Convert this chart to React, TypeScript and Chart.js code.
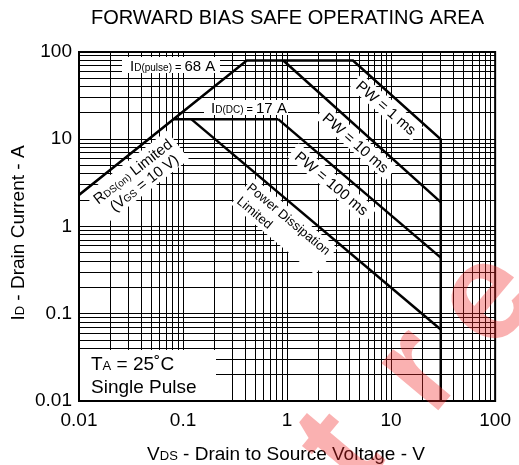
import React, { useEffect, useRef } from "react";
import { Chart, registerables } from "chart.js";
Chart.register(...registerables);

// ---- data ----
const decadeLabels = ["0.01", "0.1", "1", "10", "100"];
const decadeValues = [0.01, 0.1, 1, 10, 100];
const minorMultipliers = [1, 2, 3, 4, 5, 6, 7, 8, 9];

// RDS(on) limit -> ID(pulse) ceiling -> PW = 1 ms -> VDSS limit
const pulseEnvelopeV = [0.01, 0.41, 4.3, 30, 30];
const pulseEnvelopeI = [2.3, 80, 80, 10, 0.01];
// PW = 10 ms
const pw10msV = [0.92, 30];
const pw10msI = [80, 1.9];
// ID(DC) ceiling
const dcFlatV = [0.082, 0.82];
const dcFlatI = [17, 17];
// PW = 100 ms
const pw100msV = [0.82, 30];
const pw100msI = [17, 0.44];
// Power dissipation limited (DC)
const powerLimitV = [0.12, 30];
const powerLimitI = [17, 0.066];

const FONT = "'Liberation Sans', Arial, Helvetica, sans-serif";

function pts(xs: number[], ys: number[]) {
  return xs.map((x, i) => ({ x, y: ys[i] }));
}

function allTicks(): number[] {
  const out: number[] = [];
  for (let d = 0; d < decadeValues.length - 1; d++) {
    for (const m of minorMultipliers) out.push(parseFloat((m * decadeValues[d]).toPrecision(3)));
  }
  out.push(decadeValues[decadeValues.length - 1]);
  return out;
}

function tickLabel(v: number): string {
  for (let i = 0; i < decadeValues.length; i++) {
    if (Math.abs(v - decadeValues[i]) / decadeValues[i] < 1e-6) return decadeLabels[i];
  }
  return "";
}

type Part = { t: string; s: number };

function richWidth(ctx: CanvasRenderingContext2D, parts: Part[]) {
  let w = 0;
  for (const p of parts) {
    ctx.font = `${p.s}px ${FONT}`;
    w += ctx.measureText(p.t).width;
  }
  return w;
}

function drawRich(ctx: CanvasRenderingContext2D, parts: Part[], x: number, y: number, align: "left" | "center") {
  const w = richWidth(ctx, parts);
  let cx = align === "center" ? x - w / 2 : x;
  ctx.textAlign = "left";
  ctx.textBaseline = "alphabetic";
  for (const p of parts) {
    ctx.font = `${p.s}px ${FONT}`;
    ctx.fillText(p.t, cx, y);
    cx += ctx.measureText(p.t).width;
  }
}

function rotBox(ctx: CanvasRenderingContext2D, cx: number, cy: number, deg: number, x0: number, y0: number, w: number, h: number) {
  ctx.save();
  ctx.translate(cx, cy);
  ctx.rotate((deg * Math.PI) / 180);
  ctx.fillStyle = "#fff";
  ctx.fillRect(x0, y0, w, h);
  ctx.restore();
}

const annotationPlugin = {
  id: "soaAnnotations",
  beforeDatasetsDraw(chart: any) {
    const ctx: CanvasRenderingContext2D = chart.ctx;
    const a = chart.chartArea;
    ctx.save();
    ctx.fillStyle = "#fff";
    // label boxes
    ctx.fillRect(122, 57, 98, 16);
    ctx.fillRect(204, 100, 84, 15);
    ctx.fillRect(a.left + 1, 350, 136, a.bottom - 351);
    rotBox(ctx, 137, 177, -38, -52, -18, 104, 36);
    rotBox(ctx, 386.5, 107.5, 41, -41, -9, 82, 18);
    rotBox(ctx, 356, 142.5, 41.5, -47, -9, 94, 18);
    rotBox(ctx, 332, 183, 40, -51, -9, 102, 18);
    rotBox(ctx, 252, 188, 40, -6, -9, 110, 35);
    // frame
    ctx.strokeStyle = "#000";
    ctx.lineWidth = 2;
    ctx.strokeRect(a.left, a.top, a.right - a.left, a.bottom - a.top);
    ctx.restore();
  },
  afterDatasetsDraw(chart: any) {
    const ctx: CanvasRenderingContext2D = chart.ctx;
    ctx.save();
    ctx.fillStyle = "#000";
    drawRich(ctx, [{ t: "I", s: 15 }, { t: "D(pulse)", s: 10 }, { t: " = ", s: 11 }, { t: "68 A", s: 15 }], 130, 71, "left");
    drawRich(ctx, [{ t: "I", s: 15 }, { t: "D(DC)", s: 10 }, { t: " = ", s: 11 }, { t: "17 A", s: 15 }], 211, 113, "left");

    // RDS(on) limited
    ctx.save();
    ctx.translate(137, 177);
    ctx.rotate((-38 * Math.PI) / 180);
    drawRich(ctx, [{ t: "R", s: 15 }, { t: "DS(on)", s: 10 }, { t: " Limited", s: 15 }], 0, -2, "center");
    drawRich(ctx, [{ t: "(V", s: 15 }, { t: "GS", s: 10 }, { t: " = 10 V)", s: 15 }], 2, 14, "center");
    ctx.restore();

    const pw = (cx: number, cy: number, deg: number, txt: string) => {
      ctx.save();
      ctx.translate(cx, cy);
      ctx.rotate((deg * Math.PI) / 180);
      drawRich(ctx, [{ t: txt, s: 15 }], 0, 5.5, "center");
      ctx.restore();
    };
    pw(386.5, 107.5, 41, "PW = 1 ms");
    pw(356, 142.5, 41.5, "PW = 10 ms");
    pw(332, 183, 40, "PW = 100 ms");

    ctx.save();
    ctx.translate(252, 188);
    ctx.rotate((40 * Math.PI) / 180);
    drawRich(ctx, [{ t: "Power Dissipation", s: 13 }], -4, 4.5, "left");
    drawRich(ctx, [{ t: "Limited", s: 13 }], -3, 21.5, "left");
    ctx.restore();

    drawRich(ctx, [{ t: "T", s: 19 }, { t: "A", s: 13 }, { t: " = 25˚C", s: 19 }], 91, 370, "left");
    drawRich(ctx, [{ t: "Single Pulse", s: 19 }], 91, 393, "left");
    ctx.restore();
  },
  afterDraw(chart: any) {
    const ctx: CanvasRenderingContext2D = chart.ctx;
    ctx.save();
    ctx.fillStyle = "#000";
    drawRich(ctx, [{ t: "FORWARD BIAS SAFE OPERATING AREA", s: 20 }], 287.5, 24, "center");
    drawRich(ctx, [{ t: "V", s: 19 }, { t: "DS", s: 13 }, { t: " - Drain to Source Voltage - V", s: 19 }], 286, 460, "center");
    ctx.save();
    ctx.translate(17, 233);
    ctx.rotate(-Math.PI / 2);
    drawRich(ctx, [{ t: "I", s: 19 }, { t: "D", s: 13 }, { t: " - Drain Current - A", s: 19 }], 0, 7, "center");
    ctx.restore();

    // watermark
    ctx.fillStyle = "rgba(240,40,40,0.36)";
    ctx.font = `bold 140px ${FONT}`;
    ctx.textAlign = "center";
    ctx.textBaseline = "middle";
    const letters: [string, number, number][] = [
      ["t", 343, 452],
      ["r", 420, 372],
      ["e", 488, 300],
      ["e", 560, 224],
    ];
    for (const [ch, x, y] of letters) {
      ctx.save();
      ctx.translate(x, y);
      ctx.rotate((-50 * Math.PI) / 180);
      ctx.fillText(ch, 0, 0);
      ctx.restore();
    }
    ctx.restore();
  },
};

export default function App() {
  const ref = useRef<HTMLCanvasElement | null>(null);
  useEffect(() => {
    if (!ref.current) return;
    const ticks = allTicks();
    const lineDs = (data: any[]) => ({
      data,
      showLine: true,
      borderColor: "#000",
      borderWidth: 2.5,
      pointRadius: 0,
      fill: false,
      tension: 0,
    });
    const scaleCommon = (fitKey: "width" | "height", fitVal: number) => ({
      type: "logarithmic" as const,
      min: 0.01,
      max: 100,
      afterBuildTicks: (scale: any) => {
        scale.ticks = ticks.map((v) => ({ value: v }));
      },
      afterFit: (scale: any) => {
        scale[fitKey] = fitVal;
      },
      grid: { color: "#000", lineWidth: 1, drawTicks: false },
      border: { display: true, color: "#000", width: 2 },
      ticks: {
        autoSkip: false,
        maxRotation: 0,
        minRotation: 0,
        color: "#000",
        font: { family: FONT, size: 19 },
        callback: (v: any) => tickLabel(Number(v)),
      },
    });
    const xScale: any = scaleCommon("height", 64);
    xScale.ticks.padding = 8;
    const yScale: any = scaleCommon("width", 79);
    yScale.ticks.padding = 7;
    const chart = new Chart(ref.current, {
      type: "scatter",
      data: {
        datasets: [
          lineDs(pts(pulseEnvelopeV, pulseEnvelopeI)),
          lineDs(pts(pw10msV, pw10msI)),
          lineDs(pts(dcFlatV, dcFlatI)),
          lineDs(pts(pw100msV, pw100msI)),
          lineDs(pts(powerLimitV, powerLimitI)),
        ],
      },
      options: {
        responsive: false,
        animation: false,
        devicePixelRatio: 1,
        layout: { padding: { top: 52, right: 18, left: 0, bottom: 0 } },
        plugins: { legend: { display: false }, tooltip: { enabled: false }, title: { display: false } },
        scales: { x: xScale, y: yScale },
      },
      plugins: [annotationPlugin],
    });
    return () => chart.destroy();
  }, []);
  return (
    <div style={{ position: "fixed", left: 0, top: 0, width: 519, height: 465, background: "#fff" }}>
      <canvas ref={ref} width={519} height={465} style={{ display: "block" }} />
    </div>
  );
}
